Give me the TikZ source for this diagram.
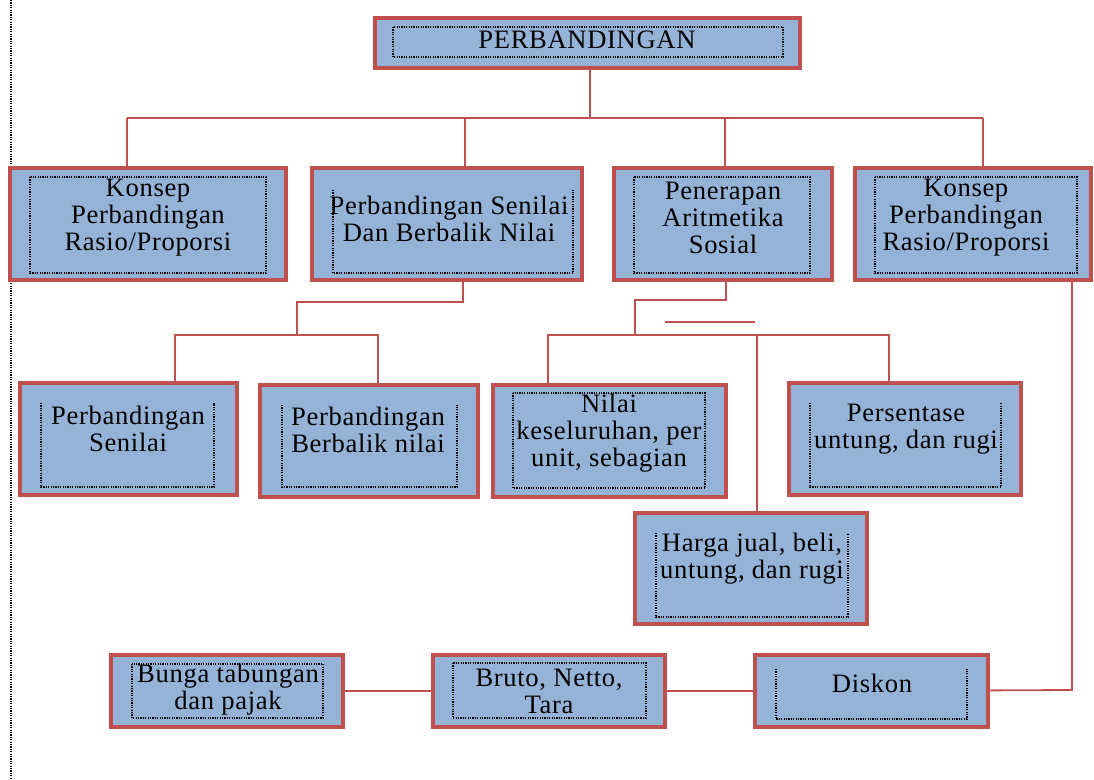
\documentclass[tikz,border=0pt]{standalone}
\usepackage{fontspec}
\setmainfont{Liberation Serif}[LetterSpace=2.5]
\usetikzlibrary{fit, positioning}
\definecolor{isi}{HTML}{95B3D7}
\definecolor{merah}{HTML}{C0504D}

\begin{document}
\begin{tikzpicture}[x=0.5pt, y=-0.5pt,
  kotak/.style={draw=merah, fill=isi, line width=2pt, inner sep=0pt, outer sep=0pt},
  teks/.style={align=center, font=\fontsize{13.3}{13.5}\selectfont, inner sep=0pt},
  titik/.style={line width=0.6pt, dash pattern=on 0.6pt off 0.6pt},
  garis/.style={draw=merah, line width=0.9pt}]
  \useasboundingbox (0,0) rectangle (1094,780);

  % garis titik di kiri
  \draw[titik, line width=0.9pt] (11,0) -- (11,780);

  % kotak
  \node[kotak, fit={(375,18) (800,68)}]   (b0)  {};
  \node[kotak, fit={(10,168) (286,280)}]  (b1)  {};
  \node[kotak, fit={(312,168) (582,280)}] (b2)  {};
  \node[kotak, fit={(614,168) (832,280)}] (b3)  {};
  \node[kotak, fit={(855,168) (1091,280)}] (b4) {};
  \node[kotak, fit={(20,383) (237,495)}]  (b5)  {};
  \node[kotak, fit={(260,385) (478,497)}] (b6)  {};
  \node[kotak, fit={(493,385) (726,497)}] (b7)  {};
  \node[kotak, fit={(789,383) (1021,495)}] (b8) {};
  \node[kotak, fit={(635,513) (867,624)}] (b9)  {};
  \node[kotak, fit={(111,655) (343,727)}] (b10) {};
  \node[kotak, fit={(433,655) (665,727)}] (b11) {};
  \node[kotak, fit={(755,655) (988,727)}] (b12) {};

  % bingkai titik di dalam kotak
  \draw[titik] (393,27) rectangle (783,57);
  \draw[titik] (30,177) rectangle (266,273);
  \draw[titik] (333,190) -- (333,273) -- (573,273) -- (573,190);
  \draw[titik] (634,177) rectangle (810,273);
  \draw[titik] (875,177) rectangle (1077,273);
  \draw[titik] (41,403) -- (41,487) -- (214,487) -- (214,403);
  \draw[titik] (282,405) -- (282,487) -- (457,487) -- (457,405);
  \draw[titik] (513,393) rectangle (705,488);
  \draw[titik] (810,403) -- (810,487) -- (1001,487) -- (1001,403);
  \draw[titik] (656,533) -- (656,617) -- (848,617) -- (848,533);
  \draw[titik] (132,664) rectangle (323,718);
  \draw[titik] (453,663) rectangle (646,718);
  \draw[titik] (776,669) -- (776,719) -- (967,719) -- (967,669);

  % teks
  \node[teks] (t0)  at (587,40)  {PERBANDINGAN};
  \node[teks] (t1)  at (148,218) {Konsep\\Perbandingan\\Rasio/Proporsi};
  \node[teks] (t2)  at (449,219) {Perbandingan Senilai\\Dan Berbalik Nilai};
  \node[teks] (t3)  at (723,218) {Penerapan\\Aritmetika\\Sosial};
  \node[teks] (t4)  at (966,218) {Konsep\\Perbandingan\\Rasio/Proporsi};
  \node[teks] (t5)  at (128,429) {Perbandingan\\Senilai};
  \node[teks] (t6)  at (368,430) {Perbandingan\\Berbalik nilai};
  \node[teks] (t7)  at (609,433) {Nilai\\keseluruhan, per\\unit, sebagian};
  \node[teks] (t8)  at (906,429) {Persentase\\untung, dan rugi};
  \node[teks] (t9)  at (752,559) {Harga jual, beli,\\untung, dan rugi};
  \node[teks] (t10) at (228,690) {Bunga tabungan\\dan pajak};
  \node[teks] (t11) at (549,691) {Bruto, Netto,\\Tara};
  \node[teks] (t12) at (872,683) {Diskon};

  % titik cabang
  \coordinate (h0) at (590,118);
  \coordinate (h1) at (297,302);
  \coordinate (h2) at (297,335);
  \coordinate (h3) at (635,300);
  \coordinate (h4) at (635,335);
  \coordinate (h5) at (1072,690);

  % penghubung
  \draw[garis] (b0.south -| h0) -- (h0);
  \draw[garis] (127,118) -- (983,118);
  \draw[garis] (b1.north -| 127,0) -- (127,118);
  \draw[garis] (b2.north -| 465,0) -- (465,118);
  \draw[garis] (b3.north -| 725,0) -- (725,118);
  \draw[garis] (b4.north -| 983,0) -- (983,118);

  \draw[garis] (b2.south -| 463,0) -- (463,302) -- (h1) -- (h2);
  \draw[garis] (b5.north -| 175,0) -- (175,335) -- (378,335) -- (b6.north -| 378,0);

  \draw[garis] (b3.south -| 726,0) -- (726,300) -- (h3) -- (h4);
  \draw[garis] (b7.north -| 548,0) -- (548,335) -- (889,335) -- (b8.north -| 889,0);
  \draw[garis] (b9.north -| 757,0) -- (757,335);
  \draw[garis] (665,322) -- (755,322);

  \draw[garis] (b10) -- (b11);
  \draw[garis] (b11) -- (b12);
  \draw[garis] (b12) -- (h5) -- (b4.south -| h5);
\end{tikzpicture}
\end{document}
